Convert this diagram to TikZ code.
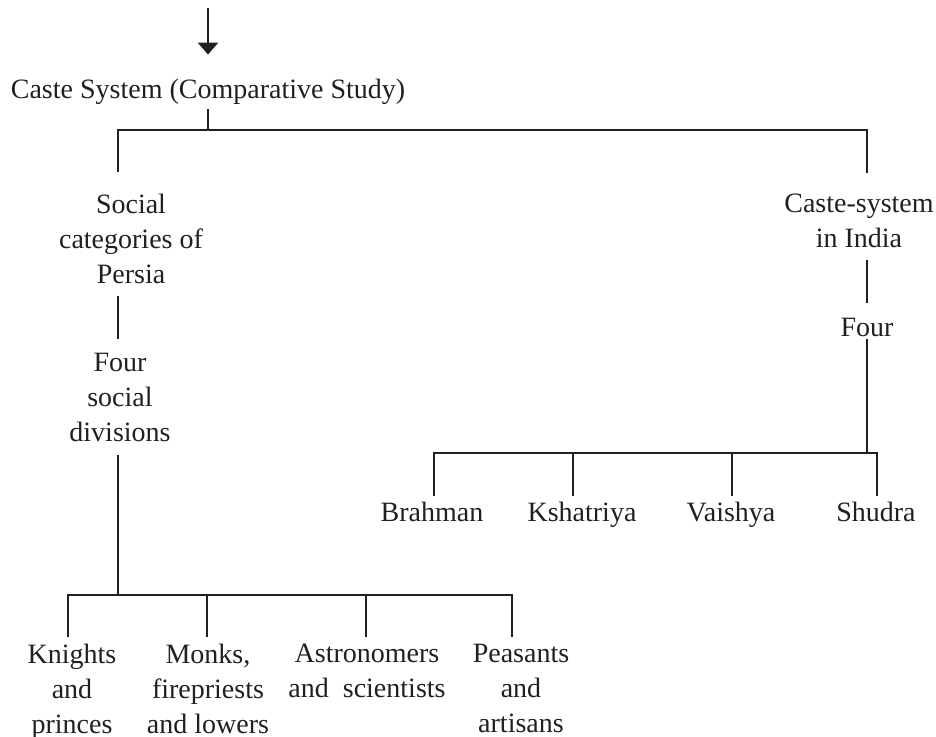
\documentclass[tikz,border=0pt]{standalone}
\usepackage{fontspec}
\setmainfont{Liberation Serif}
\usetikzlibrary{arrows.meta}
\definecolor{ink}{HTML}{231F20}
\begin{document}
\begin{tikzpicture}[x=1pt,y=-1pt,
  lbl/.style={font=\fontsize{28}{35}\selectfont, inner sep=0pt, outer sep=0pt, align=center, text=ink},
  ln/.style={draw=ink, line width=2.8pt},
  arr/.style={draw=ink, line width=2.8pt, -{Triangle[width=20pt,length=12pt]}}
]
\useasboundingbox (0,0) rectangle (936,736);
% labels
\node[lbl, anchor=base]  (title)   at (208,98)  {Caste System (Comparative Study)};
\node[lbl, anchor=north] (persia)  at (131,194) {Social\\categories of\\Persia};
\node[lbl, anchor=north] (india)   at (859,194) {Caste-system\\in India};
\node[lbl, anchor=north] (fourL)   at (120,353.5) {Four\\social\\divisions};
\node[lbl, anchor=base]  (fourR)   at (867,336) {Four};
\node[lbl, anchor=base]  (brahman) at (432,521) {Brahman};
\node[lbl, anchor=base]  (kshat)   at (582,521) {Kshatriya};
\node[lbl, anchor=base]  (vaishya) at (731,521) {Vaishya};
\node[lbl, anchor=base]  (shudra)  at (876,521) {Shudra};
\node[lbl, anchor=north] (knights) at (72,644)  {Knights\\and\\princes};
\node[lbl, anchor=north] (monks)   at (208,644) {Monks,\\firepriests\\and lowers};
\node[lbl, anchor=north] (astro)   at (367,644) {Astronomers\\and\ \ scientists};
\node[lbl, anchor=north] (peasant) at (521,644) {Peasants\\and\\artisans};
% junction coordinates
\coordinate (arrTop) at (208,8);
\coordinate (tL) at (118,130);
\coordinate (tR) at (867,130);
\coordinate (rB1) at (434,453);
\coordinate (rB2) at (573,453);
\coordinate (rB3) at (732,453);
\coordinate (rB4) at (877,453);
\coordinate (lB1) at (68,595);
\coordinate (lB2) at (207,595);
\coordinate (lB3) at (366,595);
\coordinate (lB4) at (512,595);
% connectors
\draw[arr] (arrTop) -- ([yshift=24pt]title.north);
\draw[ln] ([yshift=-5pt]title.south) -- (title.south |- tL);
\draw[ln] ([yshift=22pt]persia.north -| tL) -- (tL) -- (tR) -- ([yshift=21pt]india.north -| tR);
\draw[ln] ([yshift=-12pt]persia.south -| tL) -- ([yshift=15pt]fourL.north -| tL);
\draw[ln] ([yshift=-12pt]india.south -| tR) -- ([yshift=15pt]fourR.north -| tR);
\draw[ln] ([yshift=-13pt]fourL.south -| tL) -- (tL |- lB1);
\draw[ln] ([yshift=-3pt]fourR.south -| tR) -- (tR |- rB1);
\draw[ln] ([yshift=6pt]brahman.north -| rB1) -- (rB1) -- (rB4) -- ([yshift=6pt]shudra.north -| rB4);
\draw[ln] (rB2) -- ([yshift=6pt]kshat.north -| rB2);
\draw[ln] (rB3) -- ([yshift=6pt]vaishya.north -| rB3);
\draw[ln] ([yshift=7pt]knights.north -| lB1) -- (lB1) -- (lB4) -- ([yshift=7pt]peasant.north -| lB4);
\draw[ln] (lB2) -- ([yshift=7pt]monks.north -| lB2);
\draw[ln] (lB3) -- ([yshift=7pt]astro.north -| lB3);
\end{tikzpicture}
\end{document}
